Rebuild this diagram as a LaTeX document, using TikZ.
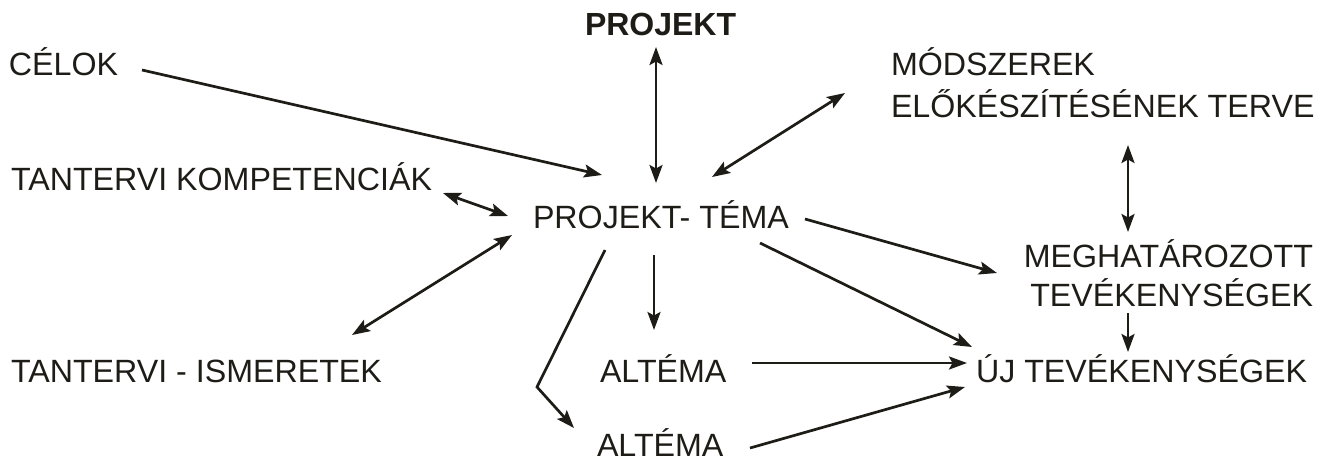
\documentclass[tikz,border=0pt]{standalone}
\usepackage{fontspec}
\setmainfont{Liberation Sans}
\usetikzlibrary{arrows.meta,calc}
\definecolor{ink}{RGB}{30,28,22}
\begin{document}
\begin{tikzpicture}[x=1pt,y=-1pt,
  lbl/.style={inner sep=0pt,outer sep=0pt,text=ink,font=\fontsize{32.2}{38}\selectfont},
  tip/.tip={Stealth[length=18pt,width=13pt,inset=3.5pt]},
  conn/.style={draw=ink,line width=2.7pt,-tip},
  dconn/.style={draw=ink,line width=2.7pt,tip-tip}]
\useasboundingbox (0,0) rectangle (1330,461);
\node[lbl,anchor=base west,font=\fontsize{32}{38}\selectfont\bfseries] (proj) at (585,35) {PROJEKT};
\node[lbl,anchor=base west] (celok) at (9,75) {CÉLOK};
\node[lbl,anchor=base west] (komp) at (11,190) {TANTERVI KOMPETENCIÁK};
\node[lbl,anchor=base west] (tema) at (533,228) {PROJEKT- TÉMA};
\node[lbl,anchor=base west] (ism) at (11,382) {TANTERVI - ISMERETEK};
\node[lbl,anchor=base west] (alt1) at (600,382) {ALTÉMA};
\node[lbl,anchor=base west] (alt2) at (597,456) {ALTÉMA};
\node[lbl,anchor=base west] (uj) at (976,382) {ÚJ TEVÉKENYSÉGEK};
\node[lbl,anchor=base west,font=\fontsize{32.2}{42}\selectfont] (modsz) at (891,75)
  {\begin{tabular}[t]{@{}l@{}}MÓDSZEREK\\ELŐKÉSZÍTÉSÉNEK TERVE\end{tabular}};
\node[lbl,anchor=base east,font=\fontsize{32.2}{38}\selectfont] (megh) at (1313,267)
  {\begin{tabular}[t]{@{}r@{}}MEGHATÁROZOTT\\TEVÉKENYSÉGEK\end{tabular}};
% connectors
\draw[dconn] ([shift={(71,12)}]proj.base west) -- ([shift={(123,-45)}]tema.base west);
\draw[conn] ([shift={(133,-5)}]celok.base west) -- ([shift={(69,-53)}]tema.base west);
\draw[dconn] ([shift={(-46,18)}]modsz.base west) -- ([shift={(179,-51)}]tema.base west);
\draw[dconn] ([shift={(432,3)}]komp.base west) -- ([shift={(-25,-12)}]tema.base west);
\draw[dconn] ([shift={(341,-47)}]ism.base west) -- ([shift={(-21,7)}]tema.base west);
\draw[conn] ([shift={(121,27)}]tema.base west) -- ([shift={(54,-52)}]alt1.base west);
\draw[conn] ([shift={(72,22)}]tema.base west) -- ([shift={(-60,-69)}]alt2.base west) -- ([shift={(-23,-28)}]alt2.base west);
\draw[conn] ([shift={(272,-9)}]tema.base west) -- ([shift={(-316,6)}]megh.base east);
\draw[conn] ([shift={(227,15)}]tema.base west) -- ([shift={(-4,-35)}]uj.base west);
\draw[conn] ([shift={(152,-19)}]alt1.base west) -- ([shift={(-9,-19)}]uj.base west);
\draw[conn] ([shift={(153,-8)}]alt2.base west) -- ([shift={(-11,5)}]uj.base west);
\draw[dconn] ([shift={(237,70)}]modsz.base west) -- ([shift={(-185,-35)}]megh.base east);
\draw[conn] ([shift={(-185,46)}]megh.base east) -- ([shift={(152,-30)}]uj.base west);
\end{tikzpicture}
\end{document}
